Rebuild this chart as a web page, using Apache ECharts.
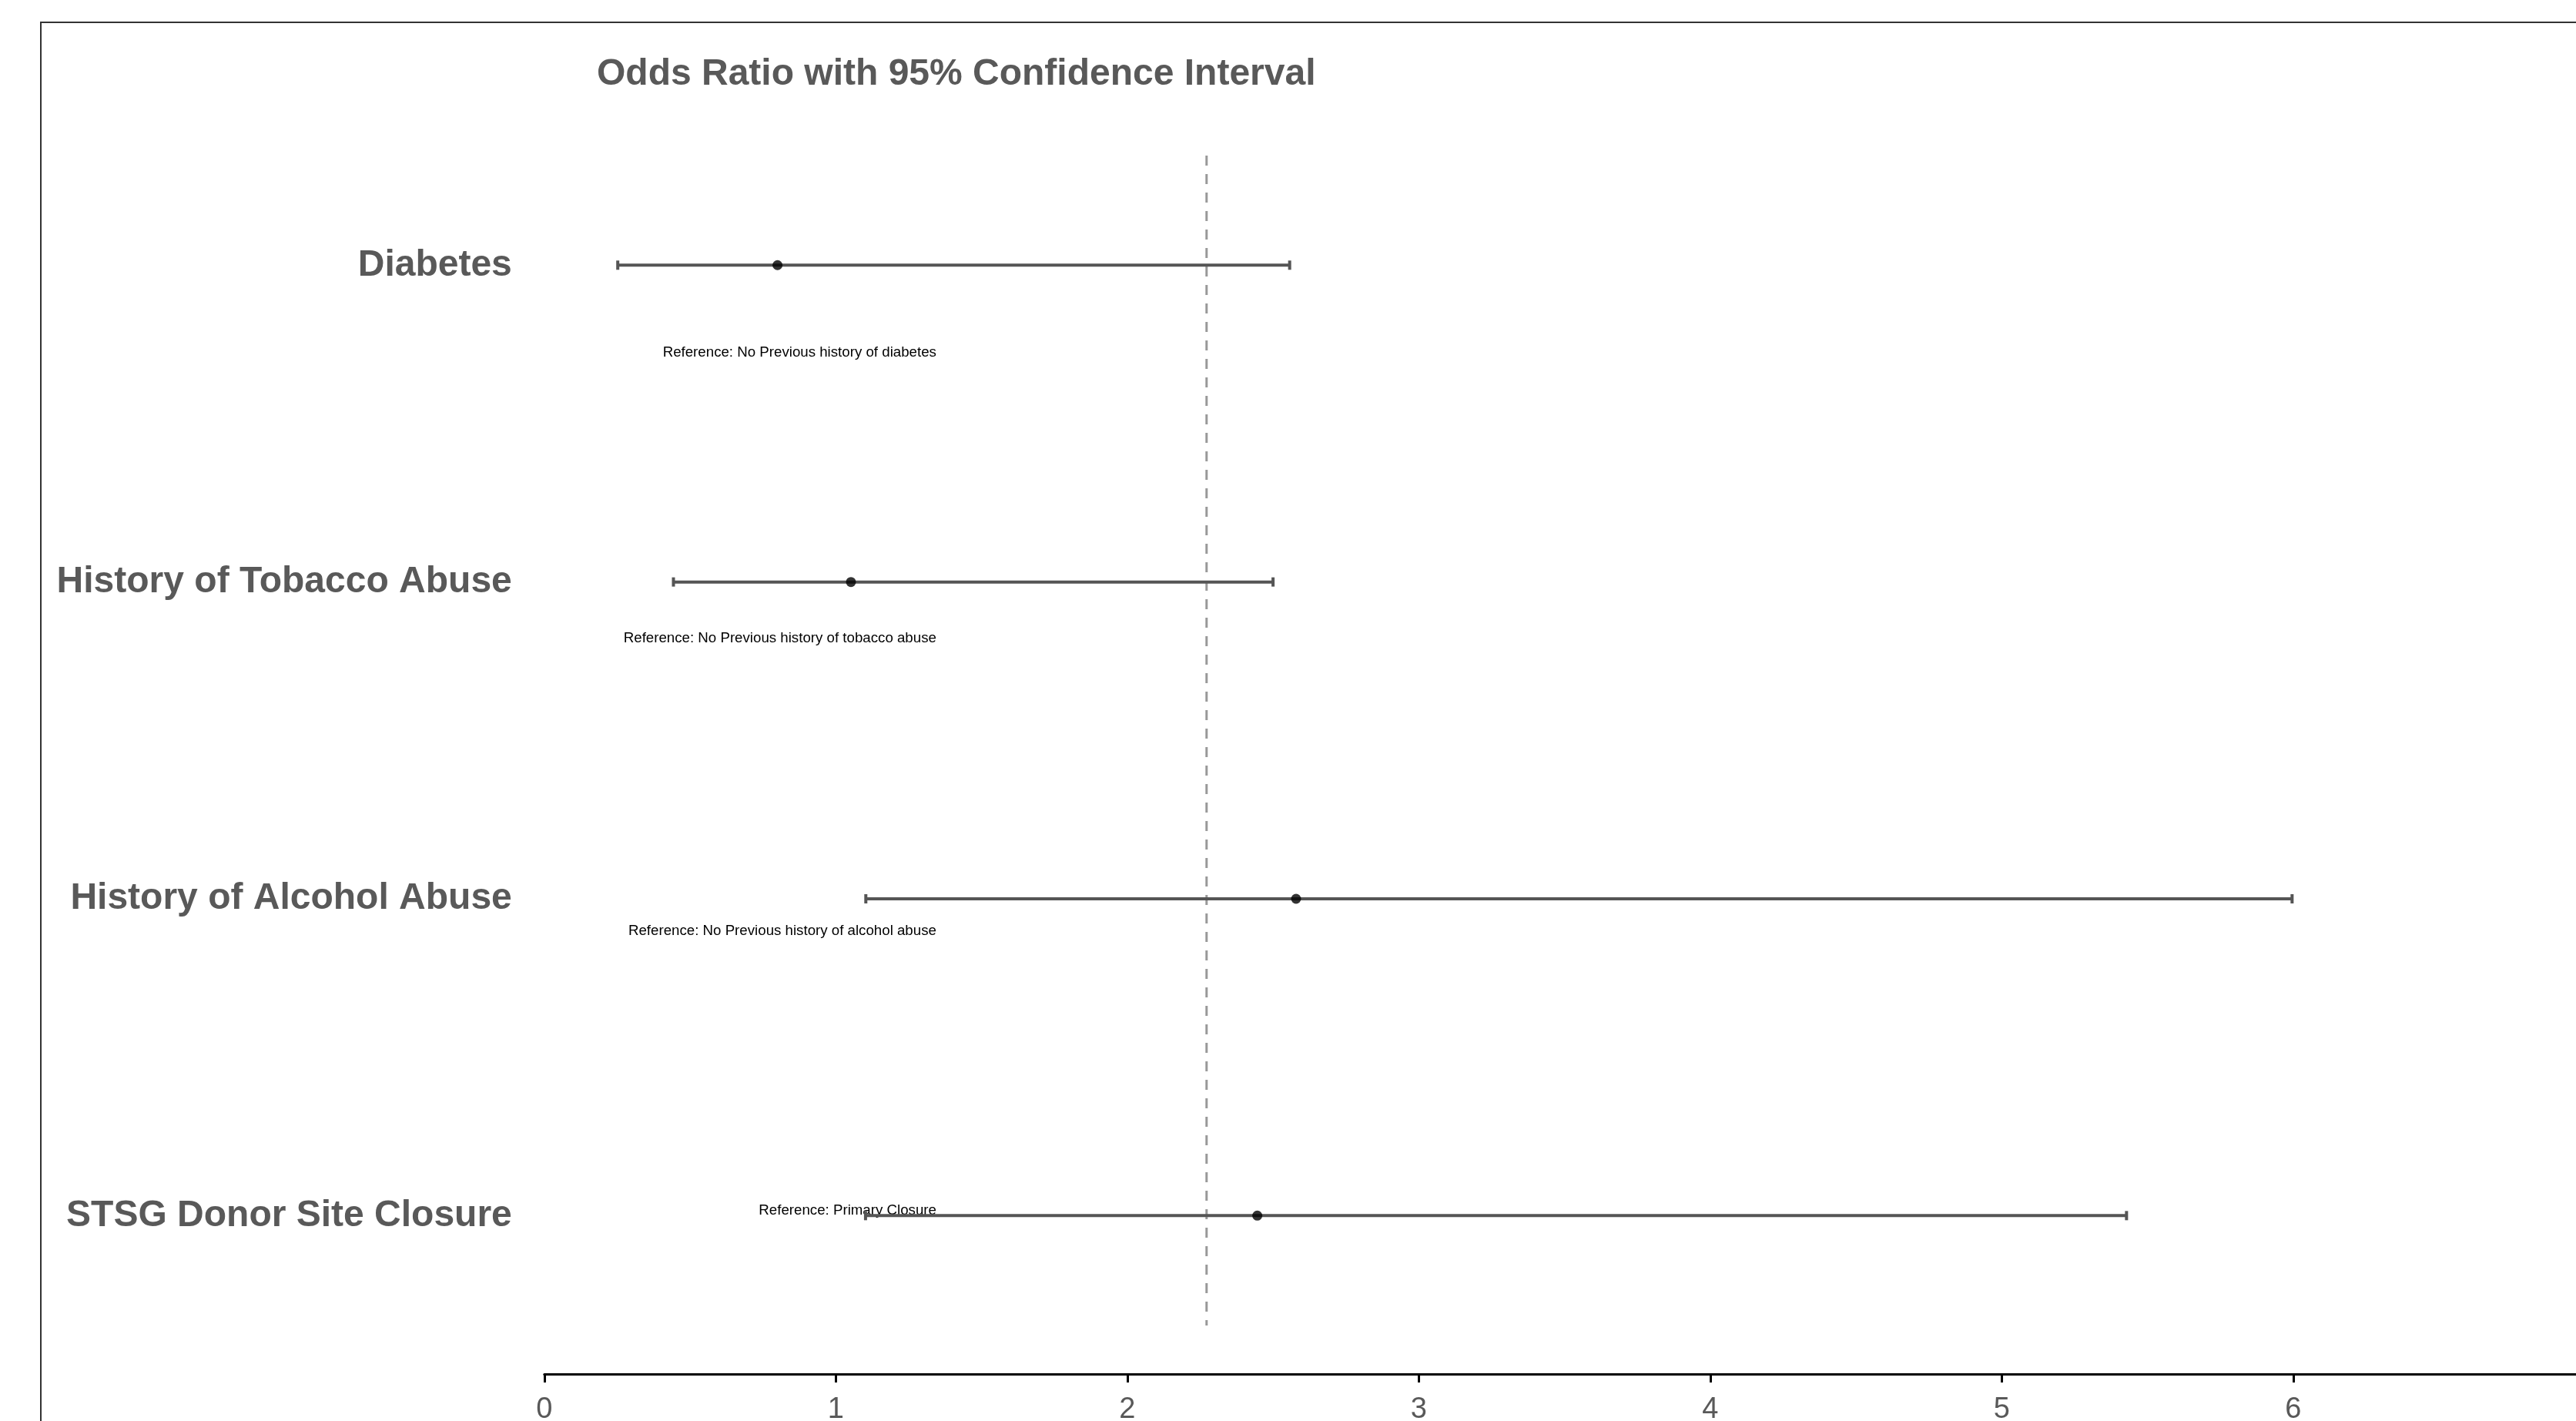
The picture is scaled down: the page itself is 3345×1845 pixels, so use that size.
<!DOCTYPE html>
<html>
<head>
<meta charset="utf-8">
<script src="https://cdn.jsdelivr.net/npm/echarts@6/dist/echarts.min.js"></script>
<style>
html,body{margin:0;padding:0;background:#fff;}
#chart{width:3345px;height:1845px;}
</style>
</head>
<body>
<div id="chart"></div>
<script>
// ---- data ----
const categories = ['Diabetes', 'History of Tobacco Abuse', 'History of Alcohol Abuse', 'STSG Donor Site Closure'];
const oddsRatio = [0.80, 1.052, 2.579, 2.446];
const ciLower = [0.252, 0.443, 1.103, 1.102];
const ciUpper = [2.557, 2.50, 5.996, 5.428];
const referenceNotes = [
  'Reference: No Previous history of diabetes',
  'Reference: No Previous history of tobacco abuse',
  'Reference: No Previous history of alcohol abuse',
  'Reference: Primary Closure'
];
const refLineValue = 2.272;
const xTicks = [0, 1, 2, 3, 4, 5, 6];
const chartTitle = 'Odds Ratio with 95% Confidence Interval';

// ---- presentation ----
const noteOffsetBand = [0.275, 0.178, 0.102, -0.015];
const noteRightX = 1.345;
const FONT = '"Liberation Sans", Arial, Helvetica, sans-serif';

const chart = echarts.init(document.getElementById('chart'), null, {renderer: 'canvas'});

const errData = categories.map((c, i) => [ciLower[i], ciUpper[i], i]);
const pointData = categories.map((c, i) => [oddsRatio[i], c]);
const noteData = categories.map((c, i) => [noteRightX, i, referenceNotes[i]]);

const option = {
  backgroundColor: '#ffffff',
  animation: false,
  title: {
    text: chartTitle,
    left: 770, top: 68,
    textStyle: {fontFamily: FONT, fontSize: 48, fontWeight: 'bold', color: '#595959'}
  },
  grid: {left: 706.8, right: 0, top: 138.6, bottom: 61, containLabel: false, outerBoundsMode: 'none'},
  xAxis: {
    type: 'value', min: 0, max: 6.97, interval: 1,
    axisLine: {show: true, lineStyle: {color: '#000', width: 3}},
    axisTick: {show: true, length: 11, lineStyle: {color: '#000', width: 3}},
    axisLabel: {
      fontFamily: FONT, fontSize: 38, color: '#595959', margin: 28,
      showMaxLabel: false,
      formatter: v => xTicks.indexOf(v) >= 0 ? String(v) : ''
    },
    splitLine: {show: false}
  },
  yAxis: {
    type: 'category', data: categories, inverse: true,
    axisLine: {show: false}, axisTick: {show: false},
    axisLabel: {fontFamily: FONT, fontSize: 48, fontWeight: 'bold', color: '#595959', margin: 42,
      padding: [5, 0, 0, 0]},
    splitLine: {show: false}
  },
  graphic: [{
    type: 'rect', z: -10, silent: true,
    shape: {x: 53, y: 29, width: 5000, height: 5000},
    style: {fill: 'none', stroke: '#333', lineWidth: 2}
  }],
  series: [
    {
      type: 'custom', name: 'refline', z: 1,
      renderItem: function (params, api) {
        const band = api.size([0, 1])[1];
        const p0 = api.coord([refLineValue, 0]);
        const p1 = api.coord([refLineValue, categories.length - 1]);
        return {
          type: 'line',
          shape: {x1: p0[0], y1: p0[1] - 0.346 * band, x2: p1[0], y2: p1[1] + 0.347 * band},
          style: {stroke: '#999999', lineWidth: 3, lineDash: [13, 11]}
        };
      },
      data: [[refLineValue, 0]]
    },
    {
      type: 'custom', name: 'notes', z: 2,
      renderItem: function (params, api) {
        const i = api.value(1);
        const band = api.size([0, 1])[1];
        const p = api.coord([api.value(0), i]);
        return {
          type: 'text',
          style: {
            x: p[0], y: p[1] + noteOffsetBand[i] * band,
            text: referenceNotes[i],
            align: 'right', verticalAlign: 'middle',
            font: '18.7px ' + FONT, fill: '#000'
          }
        };
      },
      data: noteData
    },
    {
      type: 'custom', name: 'ci', z: 3,
      renderItem: function (params, api) {
        const y = api.value(2);
        const a = api.coord([api.value(0), y]);
        const b = api.coord([api.value(1), y]);
        const st = {stroke: '#555555', lineWidth: 4};
        return {
          type: 'group',
          children: [
            {type: 'line', shape: {x1: a[0], y1: a[1], x2: b[0], y2: b[1]}, style: st},
            {type: 'line', shape: {x1: a[0], y1: a[1] - 6, x2: a[0], y2: a[1] + 6}, style: st},
            {type: 'line', shape: {x1: b[0], y1: b[1] - 6, x2: b[0], y2: b[1] + 6}, style: st}
          ]
        };
      },
      data: errData
    },
    {
      type: 'scatter', name: 'OR', z: 4,
      symbol: 'circle', symbolSize: 13,
      itemStyle: {color: '#000'},
      data: pointData
    }
  ]
};
chart.setOption(option);
</script>
</body>
</html>
